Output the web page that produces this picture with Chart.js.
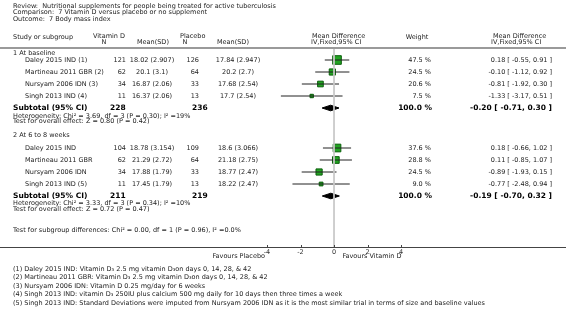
<!DOCTYPE html>
<html>
<head>
<meta charset="utf-8">
<script src="https://cdn.jsdelivr.net/npm/chart.js@4.4.1/dist/chart.umd.min.js"></script>
<style>
    html, body { margin: 0; padding: 0; background: #fff; }
    #wrap { position: relative; width: 566px; height: 316px; }
</style>
</head>
<body>
<div id="wrap"><canvas id="forest" width="566" height="316"></canvas></div>
<script>
const titleLines = [
    'Review:  Nutritional supplements for people being treated for active tuberculosis',
    'Comparison:  7 Vitamin D versus placebo or no supplement',
    'Outcome:  7 Body mass index'
];
const groupNames = ['1 At baseline', '2 At 6 to 8 weeks'];

// group 1 - at baseline
const names1 = ['Daley 2015 IND (1)', 'Martineau 2011 GBR (2)', 'Nursyam 2006 IDN (3)', 'Singh 2013 IND (4)'];
const vitN1 = [121, 62, 34, 11];
const vitMean1 = [18.02, 20.1, 16.87, 16.37];
const vitSD1 = [2.907, 3.1, 2.06, 2.06];
const plaN1 = [126, 64, 33, 13];
const plaMean1 = [17.84, 20.2, 17.68, 17.7];
const plaSD1 = [2.947, 2.7, 2.54, 2.54];
const weight1 = [47.5, 24.5, 20.6, 7.5];
const md1 = [0.18, -0.10, -0.81, -1.33];
const lo1 = [-0.55, -1.12, -1.92, -3.17];
const hi1 = [0.91, 0.92, 0.30, 0.51];
const subN1 = [228, 236];
const sub1 = [-0.20, -0.71, 0.30];
const het1 = 'Heterogeneity: Chi\u00b2 = 3.69, df = 3 (P = 0.30); I\u00b2 =19%';
const test1 = 'Test for overall effect: Z = 0.80 (P = 0.42)';

// group 2 - at 6 to 8 weeks
const names2 = ['Daley 2015 IND', 'Martineau 2011 GBR', 'Nursyam 2006 IDN', 'Singh 2013 IND (5)'];
const vitN2 = [104, 62, 34, 11];
const vitMean2 = [18.78, 21.29, 17.88, 17.45];
const vitSD2 = [3.154, 2.72, 1.79, 1.79];
const plaN2 = [109, 64, 33, 13];
const plaMean2 = [18.6, 21.18, 18.77, 18.22];
const plaSD2 = [3.066, 2.75, 2.47, 2.47];
const weight2 = [37.6, 28.8, 24.5, 9.0];
const md2 = [0.18, 0.11, -0.89, -0.77];
const lo2 = [-0.66, -0.85, -1.93, -2.48];
const hi2 = [1.02, 1.07, 0.15, 0.94];
const subN2 = [211, 219];
const sub2 = [-0.19, -0.70, 0.32];
const het2 = 'Heterogeneity: Chi\u00b2 = 3.33, df = 3 (P = 0.34); I\u00b2 =10%';
const test2 = 'Test for overall effect: Z = 0.72 (P = 0.47)';

const subgroupTest = 'Test for subgroup differences: Chi\u00b2 = 0.00, df = 1 (P = 0.96), I\u00b2 =0.0%';
const xTicks = [-4, -2, 0, 2, 4];
const footnotes = [
    '(1) Daley 2015 IND: Vitamin D\u2083 2.5 mg vitamin D\u2083on days 0, 14, 28, & 42',
    '(2) Martineau 2011 GBR: Vitamin D\u2083 2.5 mg vitamin D\u2083on days 0, 14, 28, & 42',
    '(3) Nursyam 2006 IDN: Vitamin D 0.25 mg/day for 6 weeks',
    '(4) Singh 2013 IND: vitamin D\u2083 250IU plus calcium 500 mg daily for 10 days then three times a week',
    '(5) Singh 2013 IND: Standard Deviations were imputed from Nursyam 2006 IDN as it is the most similar trial in terms of size and baseline values'
];

// vertical layout, y scale runs top-down in canvas pixels
const HEAD_RULE = 48;
const AXIS_ROW = 247;
const ROW_H = 12;
const groupRows = [
    { head: 53.5, first: 60, het: 116, test: 121.5 },
    { head: 135, first: 148, het: 203, test: 209 }
];
const groups = [
    { names: names1, vitN: vitN1, vitMean: vitMean1, vitSD: vitSD1, plaN: plaN1, plaMean: plaMean1, plaSD: plaSD1,
      weight: weight1, md: md1, lo: lo1, hi: hi1, subN: subN1, sub: sub1, het: het1, test: test1 },
    { names: names2, vitN: vitN2, vitMean: vitMean2, vitSD: vitSD2, plaN: plaN2, plaMean: plaMean2, plaSD: plaSD2,
      weight: weight2, md: md2, lo: lo2, hi: hi2, subN: subN2, sub: sub2, het: het2, test: test2 }
];
groups.forEach((g, gi) => {
    const r = groupRows[gi];
    r.studies = g.names.map((n, i) => r.first + i * ROW_H);
    r.sub = r.first + g.names.length * ROW_H;
});

const FONT = '"DejaVu Sans", Verdana, sans-serif';
const datasets = [];

// zero line
datasets.push({
    data: [{ x: 0, y: HEAD_RULE }, { x: 0, y: AXIS_ROW }],
    showLine: true, borderColor: '#c8c8c8', borderWidth: 1, pointRadius: 0
});

groups.forEach((g, gi) => {
    const rows = groupRows[gi];
    g.md.forEach((m, i) => {
        datasets.push({
            data: [{ x: g.lo[i], y: rows.studies[i] }, { x: g.hi[i], y: rows.studies[i] }],
            showLine: true, borderColor: '#222', borderWidth: 1, pointRadius: 0
        });
    });
    // squares sized by weight
    datasets.push({
        data: g.md.map((m, i) => ({ x: m, y: rows.studies[i] })),
        pointStyle: 'rect',
        pointRadius: g.weight.map(w => 1.25 * Math.sqrt(w) / Math.SQRT2),
        backgroundColor: '#22a322', borderColor: '#0b5f0b', borderWidth: 1
    });
    datasets.push({
        data: g.md.map((m, i) => ({ x: m, y: rows.studies[i] })),
        pointStyle: 'line', rotation: 90, pointRadius: 2,
        borderColor: '#000', borderWidth: 1
    });
    // pooled diamond
    const [m, l, h] = g.sub;
    const r = rows.sub, d = 2.8;
    datasets.push({
        data: [{ x: l, y: r }, { x: m, y: r - d }, { x: h, y: r }, { x: m, y: r + d }, { x: l, y: r }],
        showLine: true, fill: 'shape', tension: 0,
        borderColor: '#000', backgroundColor: '#000', borderWidth: 1, pointRadius: 0
    });
});

function fmt(v) { return v.toFixed(2); }

const textLayer = {
    id: 'textLayer',
    afterDraw(chart) {
        const ctx = chart.ctx;
        const xs = chart.scales.x, ys = chart.scales.y;
        const Y = v => ys.getPixelForValue(v);
        const put = (s, x, row, align, font, color) => {
            ctx.font = font || ('6.5px ' + FONT);
            ctx.fillStyle = color || '#222';
            ctx.textAlign = align || 'left';
            ctx.textBaseline = 'middle';
            ctx.fillText(s, x, Y(row));
        };
        const bold = 'bold 7.5px ' + FONT;

        ctx.save();
        // header rule and axis rule across the full width
        ctx.fillStyle = '#9a9a9a';
        ctx.fillRect(0, Math.round(Y(HEAD_RULE)) - 1, chart.width, 2);
        const ay = Math.round(Y(AXIS_ROW));
        ctx.fillStyle = '#444';
        ctx.fillRect(0, ay, chart.width, 1);
        xTicks.forEach(t => {
            const px = Math.round(xs.getPixelForValue(t));
            ctx.fillRect(px, ay - 2, 1, 2);
        });

        titleLines.forEach((s, i) => put(s, 13, 6 + i * 6.8));

        const h1 = 36.5, h2 = 42.5;
        put('Study or subgroup', 13, 37.5);
        put('Vitamin D', 93, h1);
        put('N', 104, h2, 'center');
        put('Mean(SD)', 137, h2);
        put('Placebo', 180, h1);
        put('N', 185, h2, 'center');
        put('Mean(SD)', 217, h2);
        put('Mean Difference', 312, h1);
        put('IV,Fixed,95% CI', 311, h2);
        put('Weight', 417, h1 + 1, 'center');
        put('Mean Difference', 493, h1);
        put('IV,Fixed,95% CI', 491, h2);

        groups.forEach((g, gi) => {
            const rows = groupRows[gi];
            put(groupNames[gi], 13, rows.head);
            g.names.forEach((n, i) => {
                const r = rows.studies[i];
                put(n, 25, r);
                put(String(g.vitN[i]), 126, r, 'right');
                put(g.vitMean[i] + ' (' + g.vitSD[i] + ')', 152, r, 'center');
                put(String(g.plaN[i]), 199, r, 'right');
                put(g.plaMean[i] + ' (' + g.plaSD[i] + ')', 238, r, 'center');
                put(g.weight[i].toFixed(1) + ' %', 431, r, 'right');
                put(fmt(g.md[i]) + ' [ ' + fmt(g.lo[i]) + ', ' + fmt(g.hi[i]) + ' ]', 552, r, 'right');
            });
            put('Subtotal (95% CI)', 13, rows.sub, 'left', bold, '#000');
            put(String(g.subN[0]), 110, rows.sub, 'left', bold, '#000');
            put(String(g.subN[1]), 192, rows.sub, 'left', bold, '#000');
            put('100.0 %', 432, rows.sub, 'right', bold, '#000');
            put(fmt(g.sub[0]) + ' [ ' + fmt(g.sub[1]) + ', ' + fmt(g.sub[2]) + ' ]', 552, rows.sub, 'right', bold, '#000');
            put(g.het, 13, rows.het);
            put(g.test, 13, rows.test);
        });

        put(subgroupTest, 13, 230);
        put('Favours Placebo', xs.getPixelForValue(-4) - 2, AXIS_ROW + 9.5, 'right');
        put('Favours Vitamin D', xs.getPixelForValue(0.5), AXIS_ROW + 9.5);
        footnotes.forEach((s, i) => put(s, 13, 269 + i * 8.5));
        ctx.restore();
    }
};

const chart = new Chart(document.getElementById('forest'), {
    type: 'scatter',
    data: { datasets: datasets },
    options: {
        responsive: false,
        animation: false,
        events: [],
        clip: false,
        layout: { padding: { left: 267, right: 165, top: 0, bottom: 0 } },
        plugins: { legend: { display: false }, tooltip: { enabled: false } },
        scales: {
            x: {
                type: 'linear', min: -4, max: 4,
                position: { y: AXIS_ROW },
                afterBuildTicks: (scale) => { scale.ticks = xTicks.map(v => ({ value: v })); },
                afterFit: (scale) => { scale.height = 0; },
                border: { display: false },
                grid: { display: false, drawTicks: false },
                ticks: { font: { family: FONT, size: 6.5 }, color: '#333', padding: 1 }
            },
            y: { type: 'linear', min: 0, max: 316, reverse: true, display: false }
        }
    }
    ,
    plugins: [textLayer]
});

// match the hidden y scale to the real plot area so one unit is one canvas pixel
const area = chart.chartArea;
chart.options.scales.y.min = area.top;
chart.options.scales.y.max = area.bottom;
chart.update();
</script>
</body>
</html>
